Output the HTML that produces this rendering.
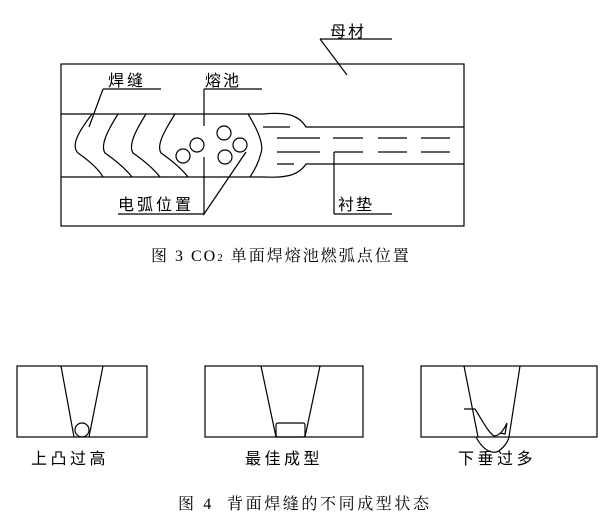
<!DOCTYPE html>
<html><head><meta charset="utf-8"><style>
html,body{margin:0;padding:0;background:#fff;width:600px;height:524px;overflow:hidden}
svg{display:block}
text{font-family:"Liberation Sans","Noto Sans CJK SC",sans-serif;fill:#000}
.s{font-family:"Liberation Serif","Noto Serif CJK SC",serif}
</style></head><body>
<svg width="600" height="524" viewBox="0 0 600 524" fill="none" stroke="#000" stroke-width="1.2">
<!-- Fig 3 -->
<rect x="61" y="64" width="403" height="162"/>
<line x1="61" y1="114" x2="263" y2="114"/>
<line x1="61" y1="177" x2="263" y2="177"/>
<path d="M263 114 C285 112 298 114 306 127 L464 127"/>
<path d="M263 177 C285 178 298 176 306 164 L464 164"/>
<line x1="263" y1="127" x2="290" y2="127"/>
<line x1="277" y1="164" x2="294" y2="164"/>
<line x1="277" y1="138" x2="320" y2="138"/><line x1="333" y1="138" x2="363" y2="138"/><line x1="378" y1="138" x2="407" y2="138"/><line x1="421" y1="138" x2="450" y2="138"/>
<line x1="277" y1="152" x2="320" y2="152"/><line x1="334" y1="152" x2="363" y2="152"/><line x1="378" y1="152" x2="407" y2="152"/><line x1="421" y1="152" x2="450" y2="152"/>
<path d="M92 114 C80 130 70 145 78 153 C88 160 98 168 103 177"/>
<path d="M118 114 C108 130 100 145 105 153 C115 160 125 168 132 177"/>
<path d="M146 114 C136 130 128 145 133 153 C143 160 153 168 160 177"/>
<path d="M175 114 C165 130 156 145 161 153 C171 160 181 168 188 177"/>
<path d="M248 114 C258 130 264 145 261 153 C258 165 253 172 250 177"/>
<circle cx="183" cy="156" r="7"/><circle cx="197" cy="145" r="7"/><circle cx="224" cy="133" r="7"/><circle cx="240" cy="145" r="7"/><circle cx="225" cy="157" r="7"/>
<path d="M320 39 L392 39 M320 39 L347 75"/>
<path d="M103 89 L161 89 M103 89 L89 127"/>
<path d="M204 89 L262 89 M204 89 L204 126"/>
<path d="M118 214 L204 214 M204 157 L204 214 L246 152"/>
<path d="M334 214 L392 214 M334 214 L334 152"/>
<g stroke="none" font-size="16">
<text x="330" y="37" letter-spacing="2">母材</text>
<text x="108" y="86" letter-spacing="3">焊缝</text>
<text x="205" y="86" letter-spacing="2">熔池</text>
<text x="118" y="210" letter-spacing="3">电弧位置</text>
<text x="338" y="210" letter-spacing="2">衬垫</text>
<text class="s" x="151" y="261" font-size="16" letter-spacing="2">图 3 CO<tspan font-size="11">2</tspan> 单面焊熔池燃弧点位置</text>
</g>
<!-- Fig 4 -->
<rect x="17" y="366" width="130" height="71"/>
<path d="M61 366 L74 437 M103 366 L89 437"/>
<circle cx="82" cy="430" r="7"/>
<rect x="205" y="366" width="158" height="71"/>
<path d="M261 366 L276 437 M320 366 L305 437"/>
<rect x="276" y="423" width="29" height="14" rx="2"/>
<rect x="421" y="366" width="176" height="71"/>
<path d="M464 366 L478 437 M520 366 L509 437"/>
<path d="M476 437 C484 452 494 455 500 450 C505 446 508 441 509 437"/>
<path d="M464 409 L475 409 C482 420 488 432 494 436 C500 436 505 428 507 423 M507 423 L505 434 L500 433"/>
<g stroke="none" font-size="16">
<text x="31" y="464" letter-spacing="3.5">上凸过高</text>
<text x="245" y="464" letter-spacing="3.5">最佳成型</text>
<text x="458" y="464" letter-spacing="3.5">下垂过多</text>
<text class="s" x="178" y="509" font-size="16" letter-spacing="2.6" xml:space="preserve">图 4  背面焊缝的不同成型状态</text>
</g>
</svg>
</body></html>
